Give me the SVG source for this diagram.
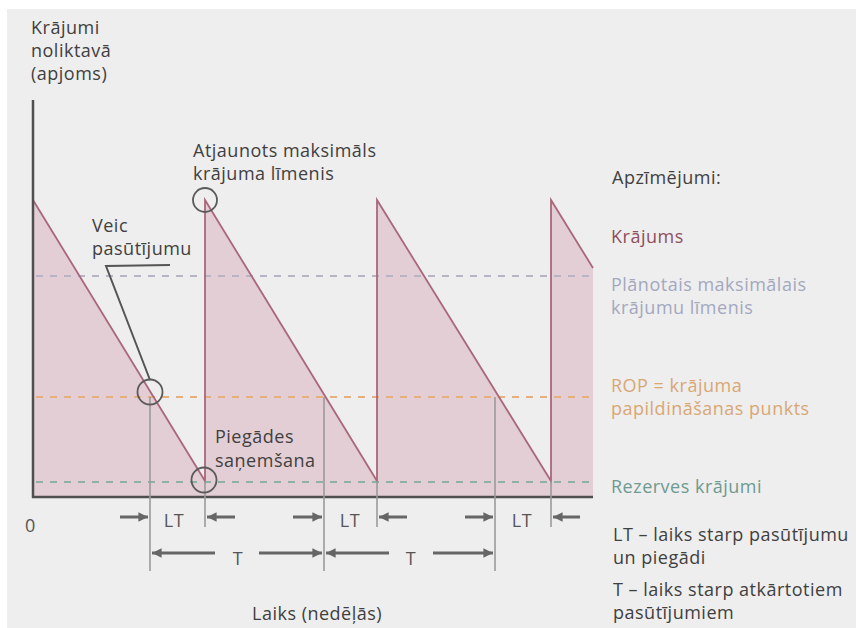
<svg xmlns="http://www.w3.org/2000/svg" width="856" height="628" viewBox="0 0 856 628">
  <defs>
    <style>
      text { font-family: "Open Sans", "Noto Sans", "DejaVu Sans", sans-serif; font-size: 18px; letter-spacing: 0.5px; fill: #404040; }
      .tick { font-size: 18px; letter-spacing: 0.5px; fill: #555; }
      .mauve { fill: #8e4f60; }
      .lav { fill: #a3a8bf; }
      .orange { fill: #d9a774; }
      .teal { fill: #6e9a90; }
      .dash { stroke-width: 2; stroke-dasharray: 7 7; fill: none; }
      .guide { stroke: #9a9a9a; stroke-width: 1.6; fill: none; }
      .arrow { stroke: #666; stroke-width: 3; fill: none; }
      .ring { stroke: #5a5a5a; stroke-width: 1.8; fill: none; }
    </style>
    <marker id="head" viewBox="0 0 10 10" refX="10" refY="5" markerWidth="3.2" markerHeight="3.2" orient="auto" markerUnits="strokeWidth">
      <path d="M0,0 L10,5 L0,10 Z" fill="#666"/>
    </marker>
  </defs>

  <!-- canvas -->
  <rect x="0" y="0" width="856" height="628" fill="#ffffff"/>
  <rect x="7" y="9" width="849" height="619" fill="#eeeeee"/>

  <!-- stock level area -->
  <g id="stock">
    <polygon points="33,497 33,200 205,481 205,200 377,481 377,200 551,481 551,200 593,268 593,497" fill="#e4ced5"/>
  </g>

  <!-- reference levels -->
  <g id="levels">
    <line class="dash" x1="36" y1="276" x2="593" y2="276" stroke="#b8b4c4"/>
    <line class="dash" x1="36" y1="397" x2="593" y2="397" stroke="#e6b07e"/>
    <line class="dash" x1="36" y1="482" x2="593" y2="482" stroke="#8fb0a6"/>
  </g>

  <!-- stock level line -->
  <g id="sawtooth">
    <polyline points="33,200 205,481 205,200 377,481 377,200 551,481 551,200 593,268" fill="none" stroke="#a8687a" stroke-width="1.8"/>
  </g>

  <!-- axes -->
  <g id="axes">
    <line x1="33" y1="100" x2="33" y2="498" stroke="#4f4f4f" stroke-width="2.5"/>
    <line x1="32" y1="497" x2="593" y2="497" stroke="#4f4f4f" stroke-width="2.5"/>
  </g>

  <!-- connectors: guides, dimension arrows, callout leader -->
  <g id="connectors">
    <line class="guide" x1="150" y1="397" x2="150" y2="571"/>
    <line class="guide" x1="324" y1="397" x2="324" y2="571"/>
    <line class="guide" x1="495" y1="397" x2="495" y2="571"/>
    <line class="guide" x1="205" y1="481" x2="205" y2="527"/>
    <line class="guide" x1="377" y1="481" x2="377" y2="527"/>
    <line class="guide" x1="551" y1="481" x2="551" y2="527"/>

    <line class="arrow" x1="120" y1="517" x2="148" y2="517" marker-end="url(#head)"/>
    <line class="arrow" x1="235" y1="517" x2="207" y2="517" marker-end="url(#head)"/>
    <line class="arrow" x1="293" y1="517" x2="322" y2="517" marker-end="url(#head)"/>
    <line class="arrow" x1="407" y1="517" x2="379" y2="517" marker-end="url(#head)"/>
    <line class="arrow" x1="465" y1="517" x2="493" y2="517" marker-end="url(#head)"/>
    <line class="arrow" x1="580" y1="517" x2="553" y2="517" marker-end="url(#head)"/>

    <line class="arrow" x1="215" y1="553" x2="152" y2="553" marker-end="url(#head)"/>
    <line class="arrow" x1="259" y1="553" x2="322" y2="553" marker-end="url(#head)"/>
    <line class="arrow" x1="389" y1="553" x2="326" y2="553" marker-end="url(#head)"/>
    <line class="arrow" x1="433" y1="553" x2="493" y2="553" marker-end="url(#head)"/>

    <polyline points="170,265 106,266 150,380" fill="none" stroke="#555" stroke-width="2"/>
  </g>

  <!-- highlighted points -->
  <g id="markers">
    <circle class="ring" cx="205" cy="200" r="12"/>
    <circle class="ring" cx="150" cy="392" r="12.5"/>
    <circle class="ring" cx="204" cy="480" r="12.5"/>
  </g>

  <!-- chart labels -->
  <g id="axis-title">
    <text x="31" y="34">Krājumi</text>
    <text x="31" y="57">noliktavā</text>
    <text x="31" y="80">(apjoms)</text>
  </g>
  <g id="label-max">
    <text x="193" y="157">Atjaunots maksimāls</text>
    <text x="193" y="180">krājuma līmenis</text>
  </g>
  <g id="label-order">
    <text x="92" y="232">Veic</text>
    <text x="92" y="255">pasūtījumu</text>
  </g>
  <g id="label-delivery">
    <text x="215" y="443">Piegādes</text>
    <text x="215" y="467">saņemšana</text>
  </g>
  <g id="axis-ticks">
    <text class="tick" x="25" y="532">0</text>
    <text class="tick" x="174" y="527" text-anchor="middle">LT</text>
    <text class="tick" x="350" y="527" text-anchor="middle">LT</text>
    <text class="tick" x="522" y="527" text-anchor="middle">LT</text>
    <text class="tick" x="238" y="565" text-anchor="middle">T</text>
    <text class="tick" x="411" y="565" text-anchor="middle">T</text>
    <text x="252" y="620">Laiks (nedēļās)</text>
  </g>

  <!-- legend -->
  <g id="legend">
    <text x="612" y="184">Apzīmējumi:</text>
    <text class="mauve" x="611" y="243">Krājums</text>
    <text class="lav" x="611" y="291">Plānotais maksimālais</text>
    <text class="lav" x="611" y="314">krājumu līmenis</text>
    <text class="orange" x="611" y="392">ROP = krājuma</text>
    <text class="orange" x="611" y="415">papildināšanas punkts</text>
    <text class="teal" x="611" y="493">Rezerves krājumi</text>
    <text x="613" y="541">LT – laiks starp pasūtījumu</text>
    <text x="613" y="564">un piegādi</text>
    <text x="613" y="596">T – laiks starp atkārtotiem</text>
    <text x="613" y="619">pasūtījumiem</text>
  </g>
</svg>
